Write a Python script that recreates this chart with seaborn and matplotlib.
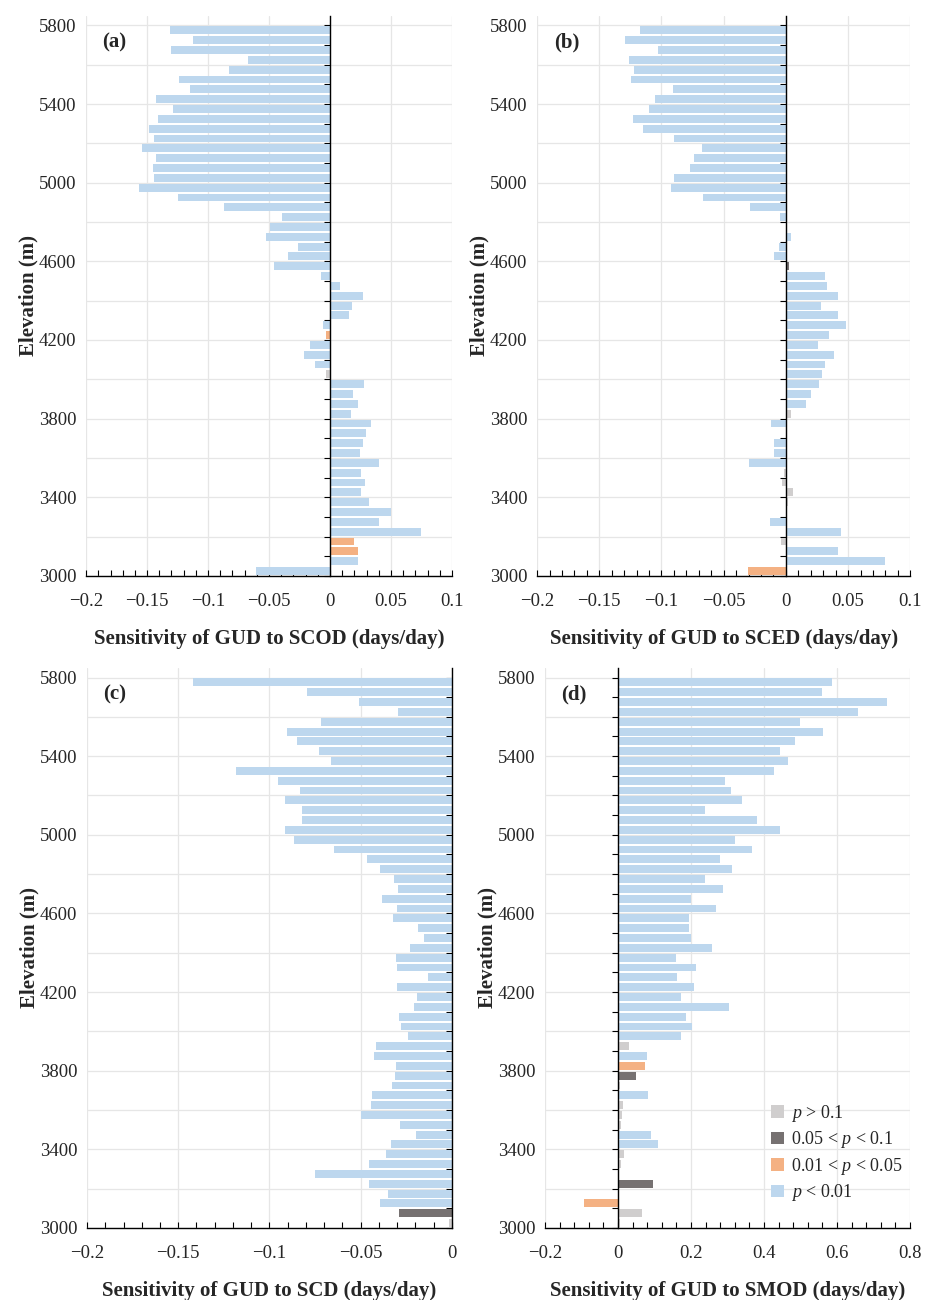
import numpy as np
import pandas as pd
import matplotlib
matplotlib.use("Agg")
import matplotlib.pyplot as plt
from matplotlib.ticker import MultipleLocator, FuncFormatter
from matplotlib.patches import Patch
import seaborn as sns

sns.set_style("white")
plt.rcParams['font.family'] = ['Liberation Serif', 'DejaVu Serif']
plt.rcParams['mathtext.fontset'] = 'custom'
plt.rcParams['mathtext.it'] = 'Liberation Serif:italic'
plt.rcParams['mathtext.rm'] = 'Liberation Serif'

####### data (elevation bins, top to bottom) #######
elev = list(range(5775, 3000, -50))

scod = [-0.131, -0.1125, -0.130, -0.067, -0.083, -0.124, -0.115, -0.143, -0.129, -0.141,
        -0.1485, -0.144, -0.154, -0.143, -0.145, -0.144, -0.157, -0.125, -0.087, -0.039,
        -0.049, -0.0526, -0.026, -0.0346, -0.0458, -0.0076, 0.008, 0.0267, 0.018, 0.0158,
        -0.0057, -0.0035, -0.0166, -0.021, -0.012, -0.0035, 0.0283, 0.0193, 0.0234, 0.0172,
        0.0338, 0.0297, 0.0272, 0.0248, 0.0406, 0.0253, 0.0289, 0.0256, 0.0322, 0.050,
        0.0406, 0.075, 0.020, 0.0226, 0.0234, -0.0605]
scod_sig = list("bbbbbbbbbb" "bbbbbbbbbb" "bbbbbbbbbb"
                "bobbbgbbbb" "bbbbbbbbbb" "bboobb")

sced = [-0.1174, -0.1295, -0.103, -0.126, -0.122, -0.1247, -0.0906, -0.1054, -0.110, -0.123,
        -0.1145, -0.0898, -0.0673, -0.0737, -0.077, -0.0898, -0.092, -0.0668, -0.029, -0.0051,
        0.0, 0.004, -0.0054, -0.0099, 0.0027, 0.0314, 0.033, 0.042, 0.028, 0.0416,
        0.048, 0.0343, 0.0255, 0.0383, 0.0311, 0.0292, 0.0265, 0.020, 0.0158, 0.004,
        -0.0123, 0.001, -0.0099, -0.0099, -0.0298, -0.0016, -0.0032, 0.0056, 0.002, 0.0,
        -0.013, 0.0445, -0.0043, 0.0418, 0.080, -0.0303]
sced_sig = list("bbbbbbbbbb" "bbbbbbbbbb" "gbbbdbbbbb"
                "bbbbbbbbbg" "bgbbbggggg" "bbgbbo")

scd = [-0.142, -0.0795, -0.051, -0.0298, -0.072, -0.0904, -0.0851, -0.073, -0.066, -0.1185,
       -0.0955, -0.0835, -0.0917, -0.082, -0.0824, -0.0917, -0.0866, -0.0647, -0.0466, -0.0396,
       -0.0318, -0.0294, -0.0382, -0.030, -0.0325, -0.0186, -0.0153, -0.0232, -0.0307, -0.0301,
       -0.0133, -0.0301, -0.019, -0.0205, -0.0292, -0.0278, -0.0243, -0.0418, -0.0429, -0.0307,
       -0.031, -0.033, -0.0438, -0.0444, -0.0497, -0.0285, -0.0199, -0.0336, -0.0363, -0.0457,
       -0.0751, -0.0455, -0.0349, -0.0395, -0.0289, -0.0018]
scd_sig = list("bbbbbbbbbb" "bbbbbbbbbb" "bbbbbbbbbb"
               "bbbbbbbbbb" "bbbbbbbbbb" "bbbbdg")

smod = [0.586, 0.558, 0.738, 0.657, 0.500, 0.5626, 0.485, 0.443, 0.465, 0.4265,
        0.294, 0.311, 0.340, 0.239, 0.381, 0.443, 0.321, 0.368, 0.280, 0.312,
        0.238, 0.287, 0.199, 0.2676, 0.195, 0.195, 0.200, 0.2566, 0.159, 0.2146,
        0.1616, 0.207, 0.172, 0.305, 0.185, 0.203, 0.172, 0.031, 0.0785, 0.073,
        0.050, 0.0055, 0.083, 0.0146, 0.012, 0.007, 0.090, 0.1087, 0.0155, 0.009,
        0.0037, 0.096, 0.0, -0.092, 0.066, 0.0064]
smod_sig = list("bbbbbbbbbb" "bbbbbbbbbb" "bbbbbbbbbb"
                "bbbbbbbgbo" "dgbgggbbgg" "gdgogg")

sig_order = ['g', 'd', 'o', 'b']
sig_labels = ['$p$ > 0.1', '0.05 < $p$ < 0.1', '0.01 < $p$ < 0.05', '$p$ < 0.01']
sig_colors = {'g': '#D0CECE', 'd': '#767171', 'o': '#F4B183', 'b': '#BDD7EE'}

panels = [
    ('(a)', scod, scod_sig, (-0.2, 0.1), 0.05, 0.01, 'SCOD', [0.093, 0.557, 0.395, 0.431]),
    ('(b)', sced, sced_sig, (-0.2, 0.1), 0.05, 0.01, 'SCED', [0.580, 0.557, 0.403, 0.431]),
    ('(c)', scd, scd_sig, (-0.2, 0.0), 0.05, 0.01, 'SCD', [0.094, 0.0554, 0.394, 0.431]),
    ('(d)', smod, smod_sig, (-0.2, 0.8), 0.2, 0.04, 'SMOD', [0.5886, 0.0554, 0.394, 0.431]),
]

fmt = FuncFormatter(lambda v, p: f'{round(v, 4) + 0.0:g}'.replace('-', '\u2212'))

fig = plt.figure(figsize=(9.26, 13), dpi=100)

for tag, vals, sig, xlim, major, minor, var, pos in panels:
    ax = fig.add_axes(pos)
    df = pd.DataFrame({'elev': elev, 'val': vals, 'sig': sig})
    sns.barplot(data=df, x='val', y='elev', hue='sig', hue_order=sig_order,
                palette=sig_colors, saturation=1, orient='h', native_scale=True,
                dodge=False, errorbar=None, linewidth=0, legend=False, ax=ax)

    ax.set_xlim(*xlim)
    ax.set_ylim(3000, 5850)
    ax.set_axisbelow(True)

    # zero line as the left spine, ticks every 100 m
    ax.spines['left'].set_position(('data', 0))
    ax.spines['left'].set_color('black')
    ax.spines['left'].set_linewidth(1.0)
    ax.spines['bottom'].set_color('black')
    ax.spines['bottom'].set_linewidth(1.0)
    ax.spines['top'].set_visible(False)
    ax.spines['right'].set_visible(False)

    ax.yaxis.set_major_locator(MultipleLocator(200))
    ax.yaxis.set_minor_locator(MultipleLocator(100))
    ax.tick_params(axis='y', which='both', left=True, length=4, width=0.8,
                   color='black', labelleft=False)

    ax.xaxis.set_major_locator(MultipleLocator(major))
    ax.xaxis.set_minor_locator(MultipleLocator(minor))
    ax.xaxis.set_major_formatter(fmt)
    ax.tick_params(axis='x', which='both', bottom=True, direction='in', length=4,
                   width=0.8, color='black', labelsize=13.5, pad=12)

    ax.grid(True, which='major', color='#E6E6E6', linewidth=0.9)

    # elevation labels on the left edge
    sec = ax.secondary_yaxis(0.0)
    sec.set_yticks(list(range(3000, 5801, 400)))
    sec.tick_params(length=0, labelsize=13.5, pad=7)
    for s in sec.spines.values():
        s.set_visible(False)
    sec.set_ylabel('Elevation (m)', fontsize=15, fontweight='bold', labelpad=0)

    ax.set_ylabel('')
    ax.set_xlabel(f'Sensitivity of GUD to {var} (days/day)', fontsize=15,
                  fontweight='bold', labelpad=14)

    ax.text(0.045, 0.952, tag, transform=ax.transAxes, fontsize=15,
            fontweight='bold', ha='left', va='center')

    if tag == '(d)':
        handles = [Patch(facecolor=sig_colors[k], edgecolor='none') for k in sig_order]
        ax.legend(handles, sig_labels, loc='lower left', bbox_to_anchor=(0.575, 0.015),
                  frameon=False, fontsize=13, handlelength=0.7, handleheight=0.7,
                  handletextpad=0.4, labelspacing=0.3)

fig.savefig('out.png', dpi=100)
